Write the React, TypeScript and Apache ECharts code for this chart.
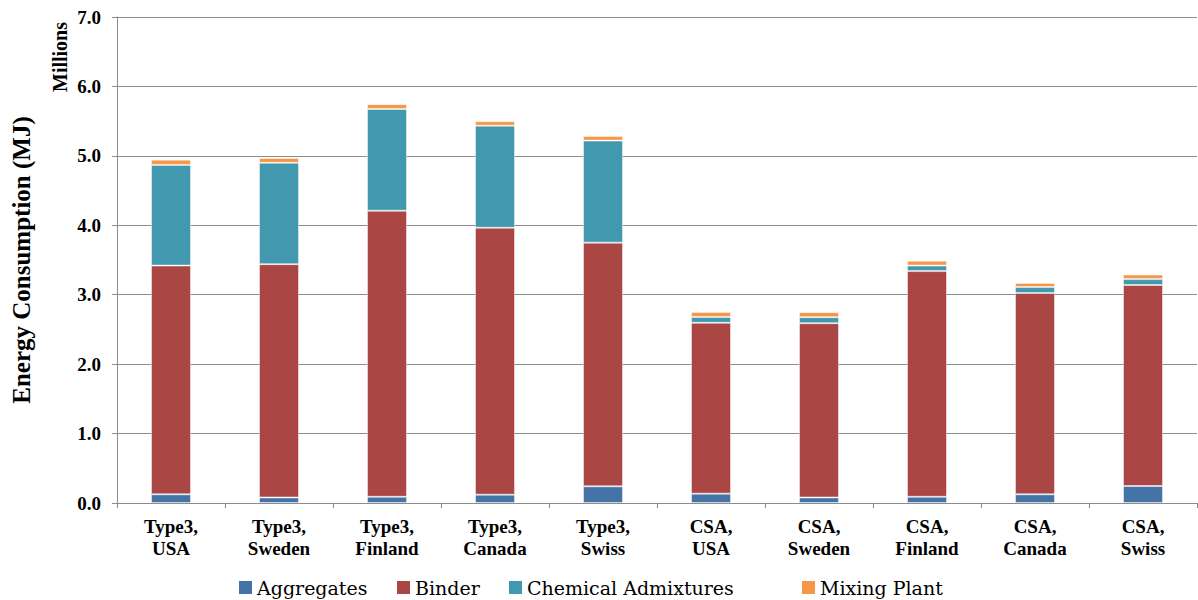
import React, { useEffect, useRef } from "react";
import * as echarts from "echarts";

const categories = [
  "Type3,\nUSA", "Type3,\nSweden", "Type3,\nFinland", "Type3,\nCanada", "Type3,\nSwiss",
  "CSA,\nUSA", "CSA,\nSweden", "CSA,\nFinland", "CSA,\nCanada", "CSA,\nSwiss",
];
const seriesNames = ["Aggregates", "Binder", "Chemical Admixtures", "Mixing Plant"];
const aggregates = [0.125, 0.08, 0.09, 0.12, 0.24, 0.135, 0.08, 0.09, 0.125, 0.245];
const binder = [3.295, 3.36, 4.12, 3.845, 3.51, 2.46, 2.51, 3.25, 2.9, 2.895];
const chemical = [1.45, 1.46, 1.465, 1.47, 1.47, 0.085, 0.087, 0.08, 0.085, 0.085];
const mixing = [0.075, 0.07, 0.07, 0.065, 0.065, 0.07, 0.072, 0.07, 0.06, 0.065];
const yTicks = [0, 1, 2, 3, 4, 5, 6, 7];

const COLORS = ["#4572A7", "#AA4643", "#4298AF", "#F79646"];
const FONT = "Liberation Serif";
const LEGEND_FONT = "DejaVu Serif";
const LEGEND_X = [239, 397, 509, 802];

export default function App() {
  const ref = useRef<HTMLDivElement>(null);
  useEffect(() => {
    if (!ref.current) return;
    const chart = echarts.init(ref.current, undefined, { renderer: "svg" });
    const values = [aggregates, binder, chemical, mixing];
    const legendItems: any[] = [];
    seriesNames.forEach((name, i) => {
      legendItems.push({
        type: "rect",
        shape: { x: LEGEND_X[i], y: 581, width: 13, height: 13 },
        style: { fill: COLORS[i] },
      });
      legendItems.push({
        type: "text",
        x: LEGEND_X[i] + 18,
        y: 588,
        style: {
          text: name,
          fontFamily: LEGEND_FONT,
          fontSize: 19,
          fill: "#000",
          align: "left",
          verticalAlign: "middle",
        },
      });
    });
    chart.setOption({
      animation: false,
      textStyle: { fontFamily: FONT },
      grid: { left: 117, right: 1, top: 17, bottom: 97 },
      graphic: [
        {
          type: "text",
          x: 60,
          y: 57,
          rotation: Math.PI / 2,
          style: {
            text: "Millions",
            fontFamily: FONT,
            fontWeight: "bold",
            fontSize: 20,
            fill: "#000",
            align: "center",
            verticalAlign: "middle",
          },
        },
        {
          type: "text",
          x: 21,
          y: 260,
          rotation: Math.PI / 2,
          style: {
            text: "Energy Consumption (MJ)",
            fontFamily: FONT,
            fontWeight: "bold",
            fontSize: 25,
            fill: "#000",
            align: "center",
            verticalAlign: "middle",
          },
        },
        ...legendItems,
      ],
      xAxis: {
        type: "category",
        data: categories,
        axisLine: { lineStyle: { color: "#8c8c8c", width: 1 } },
        axisTick: { show: true, length: 5, lineStyle: { color: "#8c8c8c" } },
        axisLabel: {
          color: "#000",
          fontFamily: FONT,
          fontWeight: "bold",
          fontSize: 19,
          lineHeight: 22,
          margin: 12,
          interval: 0,
        },
      },
      yAxis: {
        type: "value",
        min: yTicks[0],
        max: yTicks[yTicks.length - 1],
        interval: 1,
        axisLine: { show: true, lineStyle: { color: "#8c8c8c", width: 1 } },
        axisTick: { show: true, length: 5, lineStyle: { color: "#8c8c8c" } },
        splitLine: { lineStyle: { color: "#8c8c8c", width: 1 } },
        axisLabel: {
          color: "#000",
          fontFamily: FONT,
          fontWeight: "bold",
          fontSize: 19,
          margin: 16,
          formatter: (v: number) => v.toFixed(1),
        },
      },
      series: seriesNames.map((name, i) => ({
        name,
        type: "bar",
        stack: "total",
        data: values[i],
        barWidth: 40,
        itemStyle: { color: COLORS[i], borderColor: "rgba(255,255,255,0.45)", borderWidth: 1 },
      })),
    });
    return () => chart.dispose();
  }, []);
  return (
    <div
      ref={ref}
      style={{ position: "fixed", left: 0, top: 0, width: 1198, height: 600, background: "#fff" }}
    />
  );
}
